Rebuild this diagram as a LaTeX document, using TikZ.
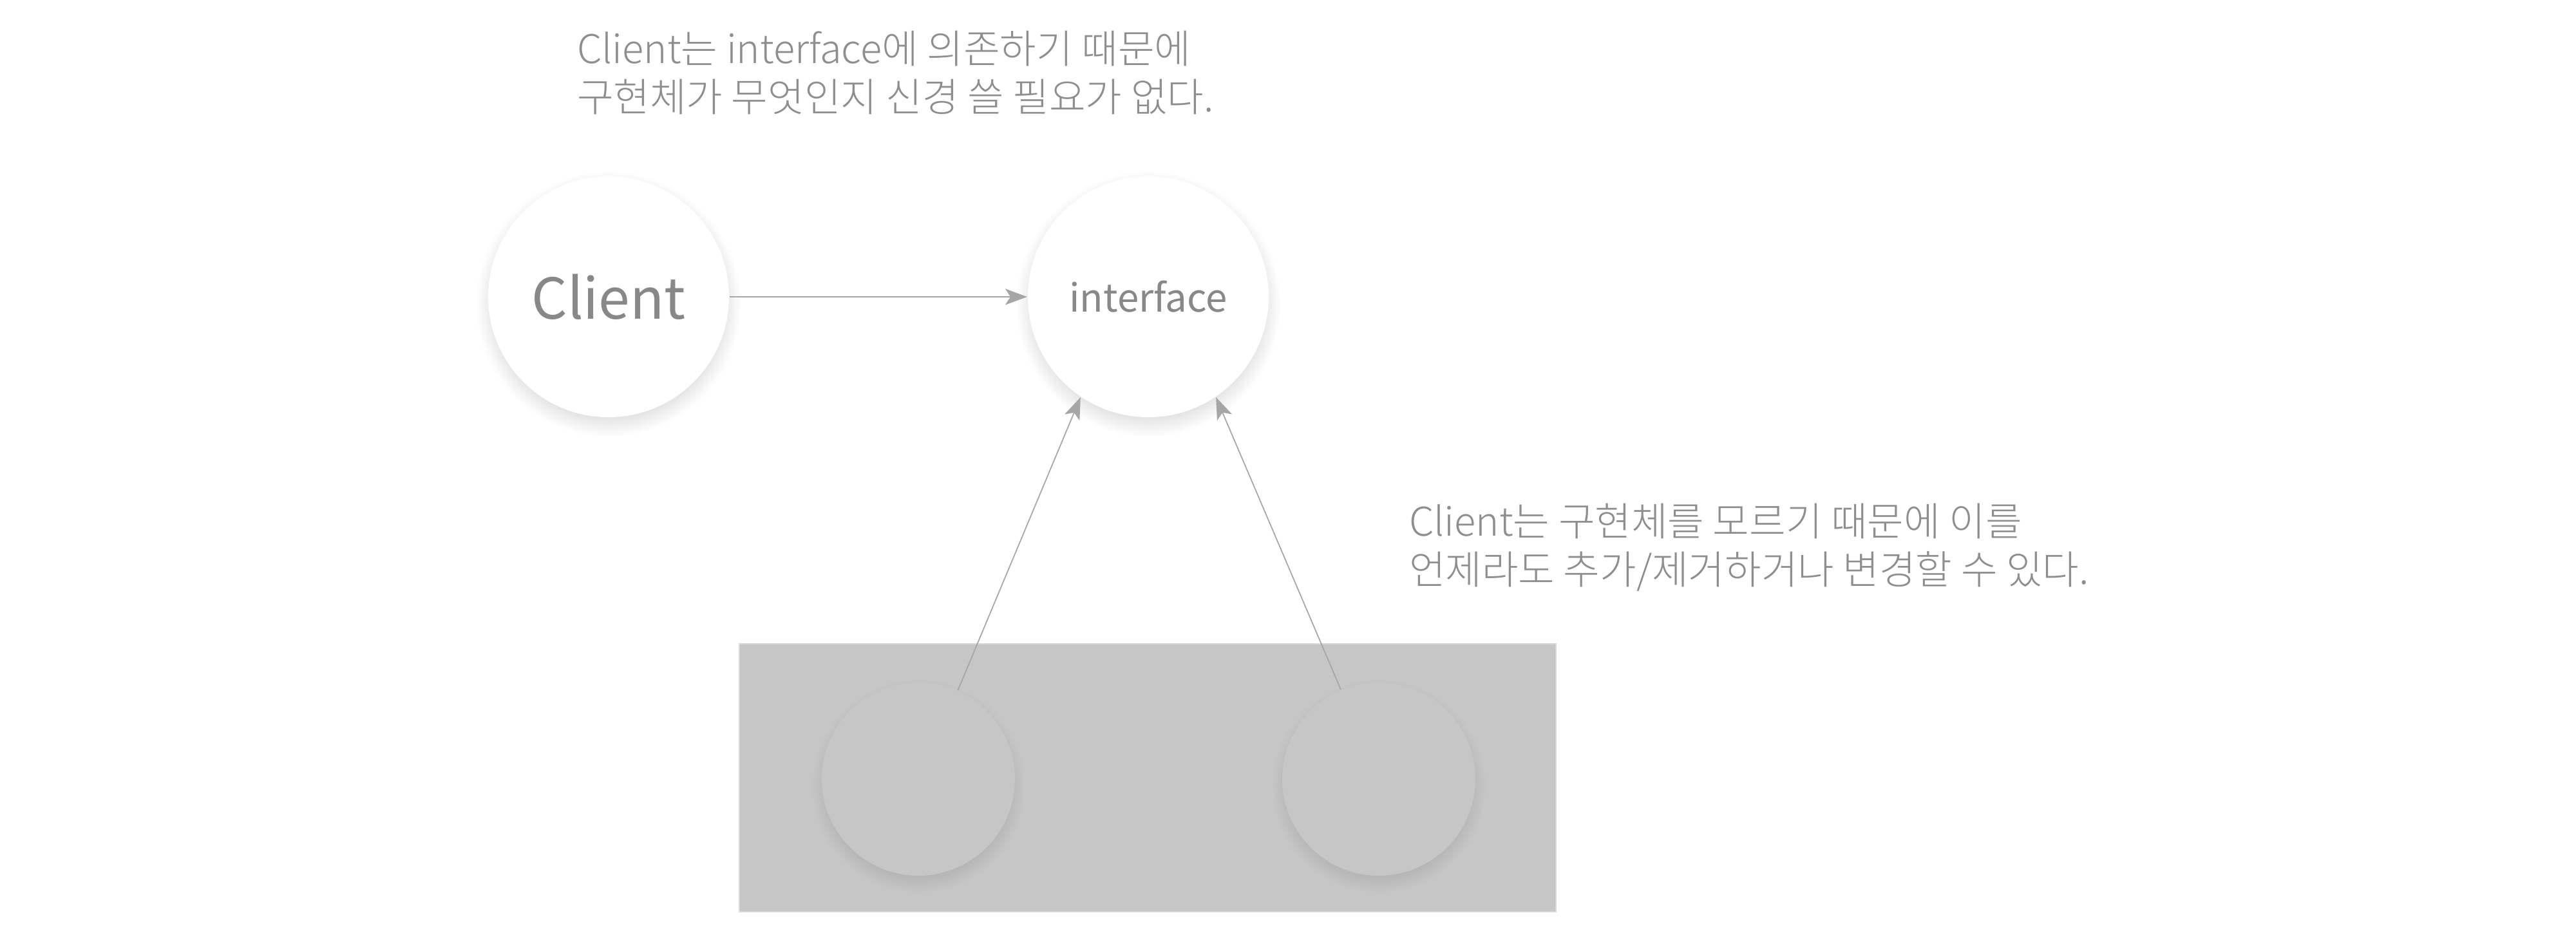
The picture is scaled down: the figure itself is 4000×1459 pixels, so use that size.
\documentclass[tikz,border=0pt]{standalone}
\usepackage{fontspec}
\usetikzlibrary{arrows.meta,shadows,fadings}
\newfontfamily\krlight{Noto Sans CJK KR Light}
\newfontfamily\kr{Noto Sans CJK KR}
\definecolor{txtgray}{HTML}{8E8E8E}
\definecolor{lblgray}{HTML}{888888}
\definecolor{linegray}{HTML}{A6A6A6}
\definecolor{boxgray}{HTML}{C6C6C6}
\begin{document}
\begin{tikzpicture}[x=0.2pt,y=-0.2pt,
  bubble/.style={circle, fill=white, inner sep=0pt, minimum size=74.8pt,
    circular drop shadow={shadow xshift=0pt, shadow yshift=-2pt, shadow scale=1.1, opacity=0.22}},
  implcircle/.style={circle, fill=boxgray, inner sep=0pt, minimum size=60pt,
    circular drop shadow={shadow xshift=0pt, shadow yshift=-2pt, shadow scale=1.1, opacity=0.22}},
  implbox/.style={rectangle, fill=boxgray, draw=black!15, line width=0.3pt, inner sep=0pt, minimum width=253.6pt, minimum height=83.2pt},
  conn/.style={draw=linegray, line width=0.35pt, -{Stealth[length=6.8pt, width=5pt, inset=1.6pt]}},
  note/.style={text=txtgray, align=left, inner sep=0pt, font=\krlight\fontsize{12.3}{15}\selectfont},
]
\useasboundingbox (0,0) rectangle (4000,1459);
\node[implbox] (box) at (1782,1208) {};
\node[implcircle] (impl1) at (1426,1210) {};
\node[implcircle] (impl2) at (2141,1210) {};
\node[bubble, text=lblgray, font=\kr\fontsize{17.5}{20}\selectfont] (client) at (945,461) {Client};
\node[bubble, text=lblgray, font=\kr\fontsize{12}{15}\selectfont] (iface) at (1783,461) {interface};
\draw[conn] (client.east) -- (iface.west);
\draw[conn] (impl1.66.8) -- (iface.236.3);
\draw[conn] (impl2.113.2) -- (iface.304);
\node[note, anchor=base west] (note1) at (895,173) {Client는 interface에 의존하기 때문에\\구현체가 무엇인지 신경 쓸 필요가 없다.};
\node[note, anchor=base west] (note2) at (2187,907) {Client는 구현체를 모르기 때문에 이를\\언제라도 추가/제거하거나 변경할 수 있다.};
\end{tikzpicture}
\end{document}
